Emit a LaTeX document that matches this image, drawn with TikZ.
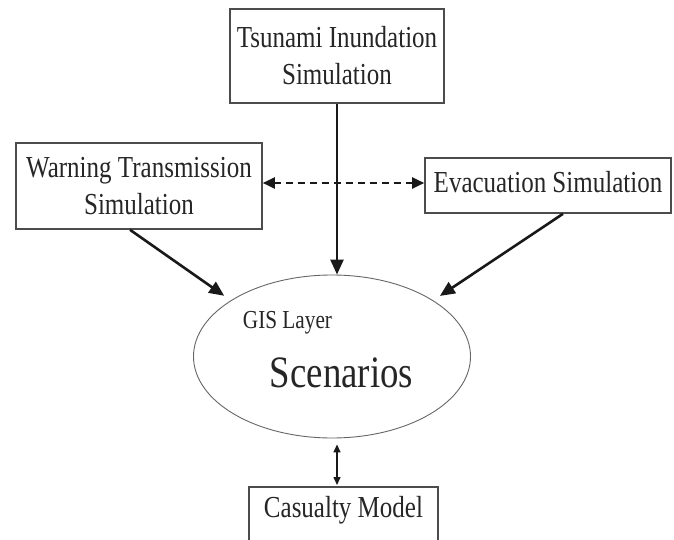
\documentclass[tikz,border=0pt]{standalone}
\usepackage{fontspec}
\setmainfont{Liberation Serif}[FakeStretch=0.82]
\usetikzlibrary{arrows.meta,shapes.geometric,calc}
\begin{document}
\begin{tikzpicture}[x=1pt,y=-1pt,
  box/.style={draw=black!70, line width=1.6pt, rectangle, inner sep=0pt, align=center,
    text=black!85, font=\fontsize{30.5}{37}\selectfont},
  arr/.style={line width=2.6pt, draw=black!90, -{Triangle[length=15pt,width=13pt]}},
  dasharr/.style={line width=2.2pt, draw=black!90, dash pattern=on 7pt off 5pt,
    {Triangle[length=12pt,width=11pt]}-{Triangle[length=12pt,width=11pt]}},
  smallarr/.style={line width=1.5pt, draw=black!90,
    {Triangle[length=8pt,width=7pt]}-{Triangle[length=8pt,width=7pt]}},
  lbl/.style={text=black!85, inner sep=0pt, anchor=base}
]
\useasboundingbox (0,0) rectangle (674,540);
\fill[white] (0,0) rectangle (674,540);

\node[box, minimum width=214pt, minimum height=94pt] (tsu) at (337,56)
  {Tsunami Inundation\\Simulation};
\node[box, minimum width=246pt, minimum height=86pt] (warn) at (139,186)
  {Warning Transmission\\Simulation};
\node[box, minimum width=246pt, minimum height=55pt, text depth=8pt] (evac) at (548,185.5)
  {Evacuation Simulation};
\node[ellipse, draw=black!60, line width=0.9pt, minimum width=277pt, minimum height=163pt,
  inner sep=0pt] (scen) at (332,356.5) {};
\node[lbl, font=\fontsize{25.9}{30}\selectfont] (gis) at (287.5,328) {GIS Layer};
\node[lbl, font=\fontsize{44.9}{52}\selectfont] (scentext) at (341.5,387) {Scenarios};
\node[box, anchor=north, minimum width=189pt, inner ysep=8pt, text height=23pt, text depth=31pt]
  (cas) at (343.5,486) {Casualty Model};

\draw[arr] (tsu.south) -- (tsu.south |- scen.north);
\draw[arr, shorten >=8pt] ($(warn.south)+(-9,0)$) -- (scen.151.5);
\draw[arr, shorten >=8pt] ($(evac.south)+(15,0)$) -- (scen.29.9);
\draw[dasharr] ($(warn.east)+(0,-3)$) coordinate (dl) -- (dl -| evac.west);
\draw[smallarr, shorten <=6pt, shorten >=1pt] (scen.south -| tsu.south) -- (cas.north -| tsu.south);
\end{tikzpicture}
\end{document}
